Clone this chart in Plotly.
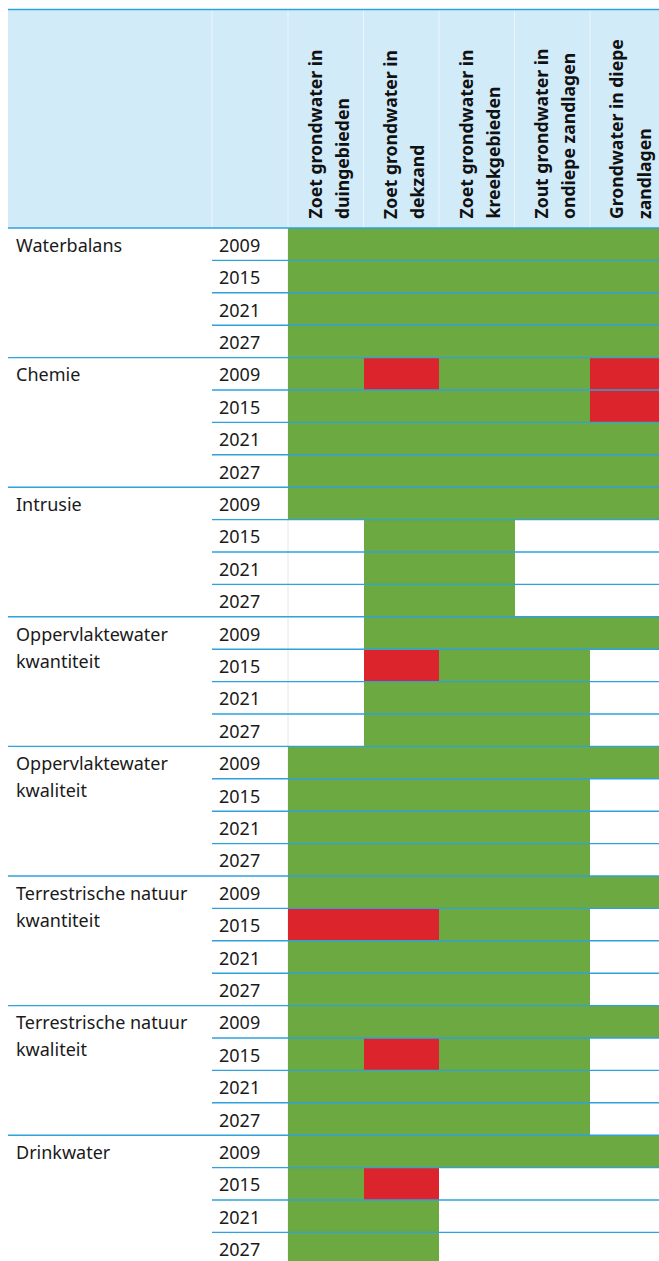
import plotly.graph_objects as go

# ---------------- data ----------------
columns = [
    ["Zoet grondwater in", "duingebieden"],
    ["Zoet grondwater in", "dekzand"],
    ["Zoet grondwater in", "kreekgebieden"],
    ["Zout grondwater in", "ondiepe zandlagen"],
    ["Grondwater in diepe", "zandlagen"],
]
categories = [
    ["Waterbalans"],
    ["Chemie"],
    ["Intrusie"],
    ["Oppervlaktewater", "kwantiteit"],
    ["Oppervlaktewater", "kwaliteit"],
    ["Terrestrische natuur", "kwantiteit"],
    ["Terrestrische natuur", "kwaliteit"],
    ["Drinkwater"],
]
years = ["2009", "2015", "2021", "2027"]

# G = goed (groen), R = niet goed (rood), - = niet van toepassing
waterbalans = ["GGGGG", "GGGGG", "GGGGG", "GGGGG"]
chemie = ["GRGGR", "GGGGR", "GGGGG", "GGGGG"]
intrusie = ["GGGGG", "-GG--", "-GG--", "-GG--"]
opp_kwantiteit = ["-GGGG", "-RGG-", "-GGG-", "-GGG-"]
opp_kwaliteit = ["GGGGG", "GGGG-", "GGGG-", "GGGG-"]
terr_kwantiteit = ["GGGGG", "RRGG-", "GGGG-", "GGGG-"]
terr_kwaliteit = ["GGGGG", "GRGG-", "GGGG-", "GGGG-"]
drinkwater = ["GGGGG", "GR---", "GG---", "GG---"]
status = [waterbalans, chemie, intrusie, opp_kwantiteit,
          opp_kwaliteit, terr_kwantiteit, terr_kwaliteit, drinkwater]

# ---------------- styling ----------------
W, H = 659, 1261
GREEN = "#6ca941"
RED = "#dc242d"
HEADER_BG = "#d2ebf9"
LINE = "#2ea2dc"
TEXT = "#1a1a1a"
FONT = "Noto Sans"

col_px = 75.5          # column width in px
row_px = 32.4          # row height in px
left_px = 288          # left edge of first data column
top_px = 228           # bottom of header
head_top_px = 9.5
frame_left_px = 8

x0 = -left_px / col_px
x1 = x0 + W / col_px
y_top = -top_px / row_px
y_bot = (H - top_px) / row_px
y_head = (head_top_px - top_px) / row_px

code = {"G": 1, "R": 2, "-": None}
z = []
for cat in status:
    for row in cat:
        z.append([code[c] for c in row])
n_rows = len(z)

fig = go.Figure()
fig.add_trace(go.Heatmap(
    z=z,
    x=[i + 0.5 for i in range(len(columns))],
    y=[j + 0.5 for j in range(n_rows)],
    colorscale=[[0, GREEN], [0.5, GREEN], [0.5, RED], [1, RED]],
    zmin=1, zmax=2, showscale=False, hoverinfo="skip",
    xgap=0, ygap=0,
))

FAINT_H = "rgba(255,255,255,0.55)"
shapes = []
# header background
shapes.append(dict(type="rect", xref="paper", yref="y", x0=frame_left_px / W, x1=1,
                   y0=y_head, y1=0, fillcolor=HEADER_BG, line_width=0, layer="below"))
# faint vertical separators in header
shapes.append(dict(type="line", xref="paper", yref="y", x0=212 / W, x1=212 / W,
                   y0=y_head, y1=0, line=dict(color=FAINT_H, width=1), layer="below"))
for i in range(len(columns)):
    shapes.append(dict(type="line", xref="x", yref="y", x0=i, x1=i,
                       y0=y_head, y1=0, line=dict(color=FAINT_H, width=1), layer="below"))
# faint left edge of the data area
shapes.append(dict(type="line", xref="x", yref="y", x0=0, x1=0,
                   y0=0, y1=n_rows, line=dict(color="#e6e6e6", width=1), layer="below"))

# top line
shapes.append(dict(type="line", xref="paper", yref="y", x0=frame_left_px / W, x1=1,
                   y0=y_head, y1=y_head, line=dict(color=LINE, width=1.4)))
# horizontal separators
for g in range(len(categories) + 1):
    yb = g * len(years)
    shapes.append(dict(type="line", xref="paper", yref="y", x0=frame_left_px / W, x1=1,
                       y0=yb, y1=yb, line=dict(color=LINE, width=1.4)))
    if g < len(categories):
        for k in range(1, len(years)):
            shapes.append(dict(type="line", xref="paper", yref="y", x0=212 / W, x1=1,
                               y0=yb + k, y1=yb + k, line=dict(color=LINE, width=1.4)))

annotations = []
# column headers (rotated)
for i, lines in enumerate(columns):
    for li, txt in enumerate(lines):
        off = (26 + 27.5 * li) / col_px
        annotations.append(dict(
            x=i + off, y=(221 - top_px) / row_px, xref="x", yref="y",
            text=txt, textangle=-90, showarrow=False,
            xanchor="center", yanchor="bottom",
            font=dict(family=FONT, size=17.6, color="#111111", weight="bold"),
        ))
# category and year labels
for g, lines in enumerate(categories):
    base = g * len(years)
    for li, txt in enumerate(lines):
        annotations.append(dict(
            x=14 / W, y=base + 0.52 + li * 27 / row_px, xref="paper", yref="y",
            text=txt, showarrow=False, xanchor="left", yanchor="middle",
            font=dict(family=FONT, size=18, color=TEXT),
        ))
    for k, yr in enumerate(years):
        annotations.append(dict(
            x=217 / W, y=base + k + 0.52, xref="paper", yref="y",
            text=yr, showarrow=False, xanchor="left", yanchor="middle",
            font=dict(family=FONT, size=18, color=TEXT),
        ))

fig.update_layout(
    width=W, height=H,
    margin=dict(l=0, r=0, t=0, b=0),
    paper_bgcolor="white", plot_bgcolor="white",
    xaxis=dict(range=[x0, x1], visible=False, fixedrange=True),
    yaxis=dict(range=[y_bot, y_top], visible=False, fixedrange=True),
    shapes=shapes, annotations=annotations,
    showlegend=False,
)
fig.write_html(
    "out.html",
    config={"displayModeBar": False},
    post_script="document.body.style.margin='0';document.documentElement.style.overflow='hidden';",
)
